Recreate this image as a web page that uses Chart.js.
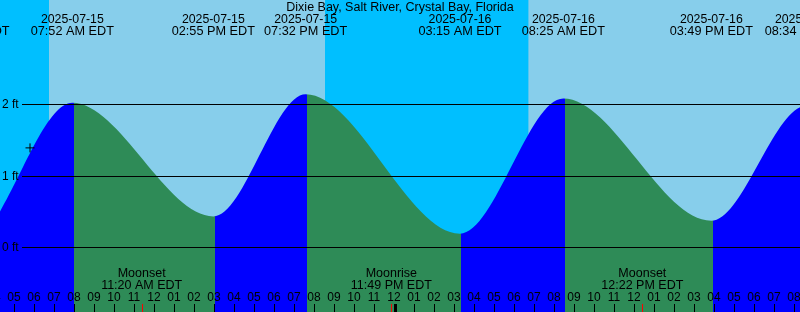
<!DOCTYPE html>
<html>
<head>
<meta charset="utf-8">
<script src="https://cdn.jsdelivr.net/npm/chart.js@4/dist/chart.umd.min.js"></script>
<style>
    html, body { margin: 0; padding: 0; background: #fff; }
    canvas { display: block; }
</style>
</head>
<body>
<canvas id="tideChart" width="800" height="312"></canvas>
<script>
// Times are hours since 2025-07-15 00:00 EDT
const viewStart = 4.25;
const viewEnd = 44.25;

// High / low tides (first and last are off the picture, they only shape the ends)
const tideTimes = [-4.4, 2.65, 7.867, 14.917, 19.533, 27.25, 32.417, 39.817, 44.567, 51.8];
const tideHeights = [2.1, 0.06, 2.02, 0.43, 2.14, 0.19, 2.08, 0.37, 1.98, 0.2];
const tideDates = ['2025-07-14', '2025-07-15', '2025-07-15', '2025-07-15', '2025-07-15', '2025-07-16', '2025-07-16', '2025-07-16', '2025-07-16', '2025-07-17'];
const tideClock = ['07:36 PM EDT', '02:39 AM EDT', '07:52 AM EDT', '02:55 PM EDT', '07:32 PM EDT', '03:15 AM EDT', '08:25 AM EDT', '03:49 PM EDT', '08:34 PM EDT', '03:48 AM EDT'];

// Night periods (sunset -> sunrise)
const nightStart = [0, 20.5];
const nightEnd = [6.7, 30.67];

// Moon events
const moonTimes = [11.333, 23.817, 36.367];
const moonNames = ['Moonset', 'Moonrise', 'Moonset'];
const moonClock = ['11:20 AM EDT', '11:49 PM EDT', '12:22 PM EDT'];

// Current time marker
const nowTime = 5.75;
const nowHeight = 1.39;

// Height grid lines
const heightTicks = [0, 1, 2];
const heightLabels = ['0 ft', '1 ft', '2 ft'];

const FONT = '"Liberation Sans", Arial, sans-serif';
const DAY = '#87ceeb';
const NIGHT = '#00bfff';
const RISING = '#0000ff';
const FALLING = '#2e8b57';

function tideFill(context) {
    const chart = context.chart;
    const area = chart.chartArea;
    const x = chart.scales.x;
    if (!area || !x) return FALLING;
    const grad = chart.ctx.createLinearGradient(area.left, 0, area.right, 0);
    const w = area.right - area.left;
    const frac = t => Math.min(1, Math.max(0, (x.getPixelForValue(t) + 1.5 - area.left) / w));
    for (let i = 0; i < tideTimes.length - 1; i++) {
        const c = tideHeights[i + 1] > tideHeights[i] ? RISING : FALLING;
        grad.addColorStop(frac(tideTimes[i]), c);
        grad.addColorStop(frac(tideTimes[i + 1]), c);
    }
    return grad;
}

function hourLabel(t) {
    const h = ((t % 12) + 12) % 12 || 12;
    return String(h).padStart(2, '0');
}

// Sky bands behind the curve
const skyPlugin = {
    id: 'sky',
    beforeDatasetsDraw(chart) {
        const { ctx, chartArea: a, scales: { x } } = chart;
        ctx.save();
        ctx.fillStyle = DAY;
        ctx.fillRect(a.left, a.top, a.right - a.left, a.bottom - a.top);
        ctx.fillStyle = NIGHT;
        nightStart.forEach((s, i) => {
            const x0 = Math.max(a.left, x.getPixelForValue(s));
            const x1 = Math.min(a.right, x.getPixelForValue(nightEnd[i]));
            if (x1 > x0) ctx.fillRect(x0, a.top, x1 - x0, a.bottom - a.top);
        });
        ctx.restore();
    }
};

// Grid lines, labels and ticks on top
const overlayPlugin = {
    id: 'overlay',
    afterDatasetsDraw(chart) {
        const { ctx, chartArea: a, scales: { x, y } } = chart;
        ctx.save();
        ctx.fillStyle = '#000';
        ctx.strokeStyle = '#000';
        ctx.lineWidth = 1;

        // height lines
        ctx.font = '12px ' + FONT;
        ctx.textAlign = 'left';
        ctx.textBaseline = 'middle';
        heightTicks.forEach((v, i) => {
            const py = Math.round(y.getPixelForValue(v)) + 0.5;
            ctx.beginPath();
            ctx.moveTo(22, py);
            ctx.lineTo(a.right, py);
            ctx.stroke();
            ctx.fillText(heightLabels[i], 2, py);
        });

        // title
        ctx.textAlign = 'center';
        ctx.font = '12.5px ' + FONT;
        ctx.fillText('Dixie Bay, Salt River, Crystal Bay, Florida', 400, 8);

        // tide labels
        ctx.font = '12.3px ' + FONT;
        tideTimes.forEach((t, i) => {
            const px = x.getPixelForValue(t);
            ctx.fillText(tideDates[i], px, 19.5);
            ctx.font = '12.7px ' + FONT;
            ctx.fillText(tideClock[i], px, 31.5);
            ctx.font = '12.3px ' + FONT;
        });

        // moon labels
        ctx.font = '12.5px ' + FONT;
        moonTimes.forEach((t, i) => {
            const px = x.getPixelForValue(t);
            ctx.fillText(moonNames[i], px, 274);
            ctx.fillText(moonClock[i], px, 285.5);
        });

        // hour ticks
        ctx.font = '12px ' + FONT;
        for (let t = Math.floor(viewStart); t <= Math.ceil(viewEnd); t++) {
            const px = Math.round(x.getPixelForValue(t)) - 1;
            ctx.fillText(hourLabel(t), px, 297.5);
            if (t % 24 === 0) {
                ctx.fillRect(px, 304, 3, 8);
            } else {
                ctx.fillRect(px, 304, 1, 8);
            }
        }
        ctx.fillStyle = '#ff0000';
        moonTimes.forEach(t => {
            const px = Math.round(x.getPixelForValue(t));
            ctx.fillRect(px, 304, 1, 8);
        });
        ctx.restore();
    }
};

const tideCtx = document.getElementById('tideChart');
new Chart(tideCtx, {
    type: 'line',
    data: {
        datasets: [
            {
                label: 'now',
                data: [{ x: nowTime, y: nowHeight }],
                showLine: false,
                pointStyle: 'cross',
                pointRadius: 4.5,
                pointBorderColor: '#000',
                pointBorderWidth: 1,
                order: 0
            },
            {
                label: 'tide',
                data: tideTimes.map((t, i) => ({ x: t, y: tideHeights[i] })),
                cubicInterpolationMode: 'monotone',
                fill: 'start',
                backgroundColor: tideFill,
                borderWidth: 0,
                borderColor: 'rgba(0,0,0,0)',
                pointRadius: 0,
                order: 1
            }
        ]
    },
    options: {
        responsive: false,
        animation: false,
        layout: { padding: 0, autoPadding: false },
        plugins: {
            legend: { display: false },
            tooltip: { enabled: false },
            title: { display: false }
        },
        scales: {
            x: { type: 'linear', min: viewStart, max: viewEnd, display: false },
            y: { type: 'linear', min: -0.906, max: 3.459, display: false }
        }
    },
    plugins: [skyPlugin, overlayPlugin]
});
</script>
</body>
</html>
